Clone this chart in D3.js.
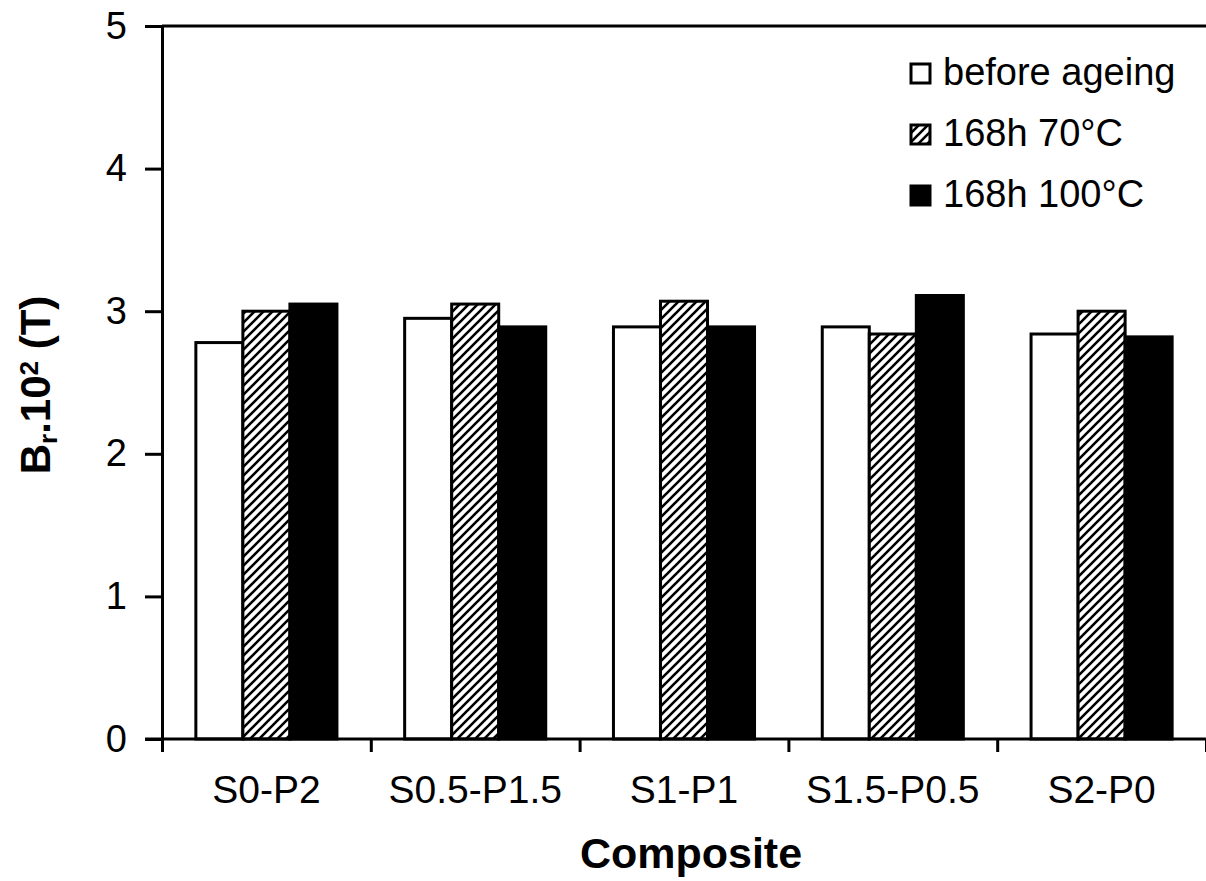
<!DOCTYPE html>
<meta charset="utf-8">
<script src="https://cdn.jsdelivr.net/npm/d3@7"></script>
<style>
  body { margin: 0; background: #fff; }
  text { font-family: "Liberation Sans", Arial, sans-serif; fill: #000; }
</style>
<body>
<div id="chart"></div>
<script>

var composites = ["S0-P2", "S0.5-P1.5", "S1-P1", "S1.5-P0.5", "S2-P0"]
var seriesNames = ["before ageing", "168h 70°C", "168h 100°C"]
var beforeAgeing = [2.78, 2.95, 2.89, 2.89, 2.84]
var aged70 = [3.00, 3.05, 3.07, 2.84, 3.00]
var aged100 = [3.05, 2.89, 2.89, 3.11, 2.82]
var yTicks = [0, 1, 2, 3, 4, 5]

var seriesValues = [beforeAgeing, aged70, aged100]

var W = 1206, H = 881
var margin = {top: 26, right: 0, bottom: 142, left: 162}
var width = W - margin.left - margin.right
var height = H - margin.top - margin.bottom

var svg = d3.select("#chart").append("svg")
  .attr("width", W)
  .attr("height", H)

// hatch pattern for the 70°C bars
var defs = svg.append("defs")
var pat = defs.append("pattern")
  .attr("id", "hatch")
  .attr("patternUnits", "userSpaceOnUse")
  .attr("width", 9)
  .attr("height", 9)
pat.append("rect").attr("width", 9).attr("height", 9).attr("fill", "#fff")
pat.append("path")
  .attr("d", "M0,9 L9,0 M-2,2 L2,-2 M7,11 L11,7")
  .attr("stroke", "#000")
  .attr("stroke-width", 2.6)

var g = svg.append("g")
  .attr("transform", "translate(" + margin.left + "," + margin.top + ")")

var x0 = d3.scaleBand()
  .domain(composites)
  .range([0, width])
  .padding(0)

var x1 = d3.scaleBand()
  .domain(d3.range(seriesNames.length))
  .range([0, x0.bandwidth()])
  .paddingInner(0)
  .paddingOuter(0.72)

var y = d3.scaleLinear()
  .domain([0, 5])
  .range([height, 0])

var fills = ["#fff", "url(#hatch)", "#000"]

// bars
composites.forEach(function(c, i) {
  seriesValues.forEach(function(vals, s) {
    g.append("rect")
      .attr("x", x0(c) + x1(s))
      .attr("y", y(vals[i]))
      .attr("width", x1.bandwidth())
      .attr("height", height - y(vals[i]))
      .attr("fill", fills[s])
      .attr("stroke", "#000")
      .attr("stroke-width", 3)
  })
})

// y axis
var yAxis = g.append("g")
  .call(d3.axisLeft(y).tickValues(yTicks).tickFormat(d3.format("d"))
    .tickSize(17).tickSizeOuter(0).tickPadding(18))
yAxis.selectAll("path, line").attr("stroke", "#000").attr("stroke-width", 3)
yAxis.selectAll("text")
  .style("font-size", "38px")
  .style("font-family", "Liberation Sans, Arial, sans-serif")

// top border
g.append("line")
  .attr("x1", 0).attr("x2", width)
  .attr("y1", 0).attr("y2", 0)
  .attr("stroke", "#000").attr("stroke-width", 3)

// x axis: boundary ticks
var xb = d3.scaleLinear().domain([0, composites.length]).range([0, width])
var xAxis = g.append("g")
  .attr("transform", "translate(0," + height + ")")
  .call(d3.axisBottom(xb).tickValues(d3.range(composites.length + 1)).tickFormat("").tickSize(13).tickSizeOuter(0))
xAxis.selectAll("line").attr("stroke", "#000").attr("stroke-width", 3)
xAxis.select(".domain").remove()
g.append("line")
  .attr("x1", -17).attr("x2", width)
  .attr("y1", height).attr("y2", height)
  .attr("stroke", "#000").attr("stroke-width", 3)

// category labels
var xl = g.append("g")
  .attr("transform", "translate(0," + height + ")")
  .call(d3.axisBottom(x0).tickSize(0).tickPadding(36))
xl.select(".domain").remove()
xl.selectAll("text")
  .style("font-size", "39px")
  .style("font-family", "Liberation Sans, Arial, sans-serif")

// axis titles
svg.append("text")
  .attr("x", margin.left + width / 2 + 7)
  .attr("y", 868)
  .attr("text-anchor", "middle")
  .style("font-size", "43px")
  .style("font-weight", "bold")
  .text("Composite")

var yt = svg.append("text")
  .attr("transform", "translate(50,385) rotate(-90)")
  .attr("text-anchor", "middle")
  .style("font-size", "42px")
  .style("font-weight", "bold")
yt.append("tspan").text("B")
yt.append("tspan").attr("baseline-shift", "-25%").style("font-size", "26px").text("r")
yt.append("tspan").text(".10")
yt.append("tspan").attr("baseline-shift", "45%").style("font-size", "26px").text("2")
yt.append("tspan").text(" (T)")

// legend
var legend = svg.append("g")
seriesNames.forEach(function(name, i) {
  var by = 85 + i * 61
  legend.append("rect")
    .attr("x", 911)
    .attr("y", by - 21)
    .attr("width", 19)
    .attr("height", 19)
    .attr("fill", fills[i])
    .attr("stroke", "#000")
    .attr("stroke-width", 3)
  legend.append("text")
    .attr("x", 943)
    .attr("y", by)
    .style("font-size", "38px")
    .text(name)
})

</script>
</body>
